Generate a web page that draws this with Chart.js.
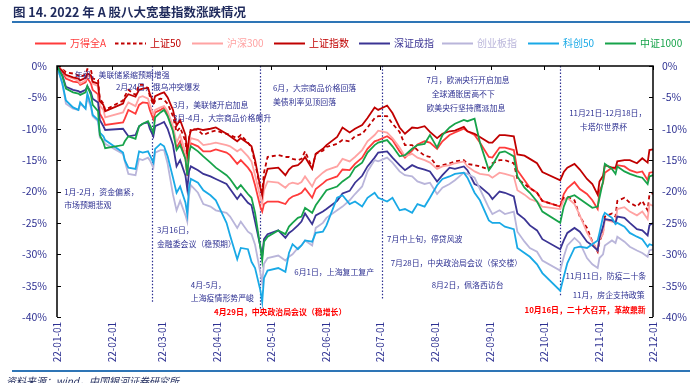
<!DOCTYPE html>
<html>
<head>
<meta charset="utf-8">
<script src="https://cdn.jsdelivr.net/npm/chart.js@4"></script>
<style>
  html, body { margin: 0; padding: 0; background: #fff; }
  #wrap { position: relative; width: 700px; height: 383px; overflow: hidden; }
  #c { position: absolute; left: 0; top: 0; }
  .title { position: absolute; left: 13px; top: 2px; font: bold 12.5px 'Noto Sans CJK SC'; color: #1f2a5c; }
  .rule { position: absolute; left: 12px; width: 678px; height: 2px; background: #2e75b6; }
  .src { position: absolute; left: 6px; top: 373px; font: italic 10px 'Noto Sans CJK SC'; color: #1f2a5c; }
</style>
</head>
<body>
<div id="wrap">
  <canvas id="c" width="700" height="383"></canvas>
  <div class="title">图 14. 2022 年 A 股八大宽基指数涨跌情况</div>
  <div class="rule" style="top:21px"></div>
  <div class="rule" style="top:370px"></div>
  <div class="src">资料来源：wind，中国银河证券研究所</div>
</div>
<script>
// 日期（2022年，MM-DD）
const dates = [
  '01-01','01-04','01-06','01-10','01-13','01-14','01-17','01-18','01-20','01-21','01-24','01-25','01-27','01-28',
  '02-07','02-08','02-10','02-14','02-16','02-18','02-21','02-22','02-24','02-25','02-28',
  '03-02','03-04','03-07','03-09','03-11','03-14','03-15','03-16','03-17','03-21','03-24','03-28','03-31',
  '04-06','04-08','04-12','04-14','04-18','04-20','04-22','04-25','04-26','04-27','04-29',
  '05-05','05-09','05-11','05-13','05-16','05-18','05-20','05-24','05-26','05-30',
  '06-01','06-07','06-10','06-14','06-17','06-21','06-24','06-28','06-30',
  '07-05','07-08','07-12','07-15','07-19','07-22','07-26','07-29',
  '08-02','08-05','08-09','08-12','08-17','08-19','08-23','08-26','08-31',
  '09-02','09-06','09-09','09-14','09-16','09-20','09-23','09-27','09-30',
  '10-10','10-12','10-14','10-18','10-21','10-25','10-28','10-31',
  '11-01','11-03','11-04','11-08','11-10','11-11','11-15','11-18','11-22','11-25','11-28','11-29','12-01'
];

// 年初以来涨跌幅（%）
const wdqa = [
  0,-0.8,-2.0,-2.5,-2.6,-3.0,-2.6,-1.9,-2.8,-3.8,-4.5,-7.6,-8.6,-9.4,
  -9.0,-8.4,-7.0,-7.6,-6.2,-5.8,-5.9,-7.0,-8.5,-7.4,-7.0,
  -6.6,-7.6,-10.2,-13.0,-12.0,-14.8,-17.5,-13.6,-12.3,-12.8,-13.6,-13.6,-13.3,
  -13.8,-14.2,-15.6,-15.0,-16.2,-17.0,-19.0,-22.5,-23.2,-22.0,-21.6,
  -21.6,-22.0,-21.2,-20.8,-20.5,-20.2,-19.5,-21.0,-19.6,-18.7,
  -18.2,-17.6,-16.5,-16.6,-15.6,-14.6,-13.2,-12.0,-11.8,
  -11.2,-11.8,-13.6,-14.6,-13.5,-12.5,-12.0,-12.2,
  -13.2,-12.0,-11.0,-10.6,-10.0,-10.4,-11.0,-12.2,-14.5,
  -14.6,-13.0,-13.0,-13.4,-16.6,-18.2,-19.4,-20.2,-21.5,
  -22.4,-20.4,-19.5,-18.5,-19.6,-20.4,-21.4,-22.8,
  -20.0,-18.6,-17.0,-16.2,-16.4,-15.8,-16.0,-16.6,-17.0,-16.8,-18.2,-17.0,-16.9
];
const sz50 = [
  0,-0.5,-1.0,-1.2,-1.5,-1.8,-1.3,-0.5,-0.6,-2.0,-2.2,-5.2,-6.0,-7.0,
  -5.5,-4.8,-3.8,-4.6,-3.0,-3.0,-3.5,-4.8,-6.2,-5.5,-5.2,
  -5.4,-6.0,-8.0,-10.5,-9.8,-12.0,-14.8,-11.5,-10.0,-10.2,-11.0,-10.5,-10.3,
  -10.8,-11.0,-11.5,-11.0,-12.2,-13.0,-15.5,-19.5,-20.0,-17.0,-14.5,
  -14.2,-14.5,-14.5,-14.8,-15.0,-14.8,-13.6,-16.2,-14.0,-13.5,
  -12.9,-12.4,-11.8,-12.0,-11.2,-10.8,-9.8,-8.3,-8.0,
  -8.0,-9.2,-10.5,-12.6,-12.6,-13.4,-14.3,-14.5,
  -16.0,-15.8,-15.5,-15.2,-15.0,-15.6,-15.8,-16.0,-16.5,
  -15.5,-15.0,-15.0,-15.5,-18.0,-18.8,-19.5,-20.2,-21.5,
  -22.4,-21.0,-20.8,-21.4,-24.0,-25.8,-28.0,-29.6,
  -28.0,-26.5,-24.0,-23.5,-24.0,-21.5,-21.0,-21.8,-22.4,-21.5,-23.0,-20.5,-20.3
];
const hs300 = [
  0,-0.6,-1.6,-2.0,-2.4,-2.8,-2.3,-1.6,-1.6,-2.8,-3.2,-6.3,-7.0,-8.2,
  -7.4,-6.8,-5.8,-6.4,-5.0,-4.8,-5.2,-6.2,-7.7,-7.0,-6.6,
  -6.4,-7.2,-9.6,-12.2,-11.0,-13.8,-16.5,-12.8,-11.5,-11.8,-12.6,-12.4,-12.2,
  -12.6,-12.8,-13.6,-13.2,-14.4,-15.2,-17.4,-21.0,-22.0,-19.8,-18.4,
  -18.6,-19.4,-18.8,-18.6,-18.8,-18.5,-17.6,-19.2,-18.0,-17.0,
  -16.6,-16.0,-14.8,-15.2,-14.5,-13.4,-12.0,-11.0,-10.3,
  -10.6,-11.5,-13.0,-14.4,-14.0,-14.6,-15.0,-15.4,
  -16.4,-16.0,-15.8,-15.5,-15.2,-16.0,-16.8,-17.2,-17.4,
  -17.8,-17.0,-17.2,-17.6,-19.8,-20.5,-21.2,-21.6,-22.4,
  -22.8,-21.4,-21.0,-22.0,-23.8,-26.5,-28.0,-29.4,
  -27.6,-26.8,-24.5,-24.8,-25.0,-22.8,-22.5,-23.2,-23.8,-23.2,-24.4,-22.0,-22.3
];
const shzs = [
  0,-0.8,-1.4,-1.8,-2.0,-2.3,-1.9,-1.2,-1.5,-2.5,-2.8,-5.6,-6.2,-7.2,
  -6.0,-5.2,-4.5,-4.9,-3.8,-3.6,-3.5,-4.4,-5.8,-4.8,-4.4,
  -4.2,-5.0,-7.0,-9.5,-8.6,-11.0,-14.0,-11.5,-10.3,-10.0,-10.2,-10.0,-9.8,
  -10.8,-11.2,-12.0,-11.5,-12.3,-12.8,-15.0,-19.4,-20.6,-18.2,-16.4,
  -16.2,-17.4,-16.5,-16.0,-15.8,-15.3,-14.5,-16.4,-14.0,-13.2,
  -12.6,-11.3,-9.8,-10.6,-10.0,-9.4,-8.3,-6.6,-7.0,
  -6.3,-7.5,-9.8,-10.8,-9.8,-9.9,-9.6,-10.5,
  -11.5,-10.8,-10.4,-10.3,-9.7,-10.4,-10.8,-11.3,-12.2,
  -12.2,-11.0,-11.0,-11.2,-14.1,-14.3,-14.8,-15.5,-16.9,
  -18.2,-16.9,-16.2,-15.6,-16.5,-18.0,-18.8,-20.5,
  -18.4,-17.5,-15.8,-16.2,-16.2,-15.2,-15.0,-15.0,-15.5,-14.7,-15.4,-13.4,-13.3
];
const szcz = [
  0,-1.5,-3.3,-3.8,-4.0,-4.2,-3.8,-3.2,-4.2,-5.2,-5.8,-8.6,-9.6,-10.2,
  -10.0,-10.4,-11.2,-11.0,-9.6,-9.2,-9.0,-10.0,-11.2,-9.6,-9.2,
  -8.9,-10.0,-12.6,-16.0,-15.0,-17.5,-19.6,-16.8,-16.0,-16.6,-17.2,-17.6,-18.0,
  -18.8,-19.6,-21.2,-20.4,-21.8,-22.2,-24.8,-28.8,-30.2,-27.6,-26.8,
  -26.2,-27.4,-26.6,-26.2,-25.4,-24.8,-23.5,-25.2,-23.8,-23.2,
  -22.8,-21.5,-20.3,-19.9,-18.6,-17.5,-16.0,-14.6,-13.8,
  -13.6,-14.6,-15.8,-16.6,-15.8,-16.2,-16.5,-16.8,
  -18.4,-17.4,-16.2,-16.4,-16.0,-16.6,-18.8,-19.2,-20.4,
  -21.2,-20.0,-20.2,-20.8,-23.5,-24.4,-25.4,-26.2,-27.6,
  -29.2,-27.8,-26.6,-25.8,-26.4,-28.0,-28.6,-29.4,
  -27.4,-25.6,-24.4,-24.6,-25.0,-24.0,-24.2,-25.0,-26.0,-26.2,-27.0,-25.4,-25.0
];
const cybz = [
  0,-2.8,-6.0,-6.8,-7.0,-6.0,-6.8,-5.0,-6.6,-8.0,-8.8,-11.4,-11.8,-12.4,
  -14.0,-15.2,-17.2,-17.4,-14.8,-15.0,-14.6,-15.0,-16.2,-13.8,-13.4,
  -13.4,-15.6,-20.5,-23.0,-21.5,-23.8,-24.8,-20.6,-19.0,-20.2,-22.0,-22.4,-23.0,
  -23.4,-24.0,-25.8,-24.8,-26.4,-26.8,-28.5,-33.0,-34.5,-31.5,-30.6,
  -30.2,-31.0,-30.4,-30.0,-29.0,-28.6,-27.8,-28.6,-25.8,-25.0,
  -24.2,-23.0,-22.4,-21.4,-20.4,-19.2,-16.8,-15.0,-15.2,
  -14.6,-15.4,-16.8,-17.4,-17.6,-18.4,-18.8,-18.6,
  -20.4,-19.4,-18.8,-18.2,-17.0,-17.2,-17.8,-19.6,-22.6,
  -23.6,-23.0,-23.6,-23.2,-26.4,-28.0,-29.0,-29.6,-31.0,
  -32.6,-30.4,-28.6,-27.4,-28.2,-30.6,-31.6,-32.2,
  -30.6,-30.0,-28.6,-27.8,-28.2,-27.2,-28.0,-28.8,-29.4,-29.8,-30.4,-29.4,-29.2
];
const kc50 = [
  0,-2.8,-5.5,-6.6,-7.0,-5.8,-6.8,-4.4,-6.2,-7.8,-8.6,-10.6,-11.2,-11.8,
  -13.8,-15.0,-16.2,-16.4,-13.6,-13.8,-13.6,-14.2,-15.4,-13.2,-12.4,
  -12.8,-14.4,-17.8,-20.2,-19.2,-21.8,-23.6,-19.4,-18.0,-18.6,-19.8,-20.6,-21.4,
  -25.0,-27.0,-30.8,-29.0,-29.2,-31.2,-32.2,-35.8,-37.6,-33.8,-32.6,
  -32.2,-32.8,-29.8,-28.4,-29.2,-28.6,-27.8,-28.0,-26.6,-26.4,
  -25.4,-21.0,-20.6,-22.0,-21.6,-22.4,-21.0,-20.2,-21.0,
  -21.6,-21.0,-23.0,-22.8,-23.4,-22.0,-22.4,-21.0,
  -19.0,-18.0,-17.6,-17.2,-17.0,-17.8,-20.2,-21.4,-24.6,
  -25.0,-25.0,-25.6,-26.0,-29.0,-29.8,-30.4,-31.6,-33.0,
  -35.8,-33.6,-31.4,-29.0,-28.8,-29.0,-28.4,-27.8,
  -26.6,-24.0,-23.4,-24.2,-25.2,-25.0,-25.6,-26.6,-27.2,-27.6,-28.8,-28.4,-28.6
];
const zz1000 = [
  0,-1.6,-3.6,-4.2,-4.4,-4.6,-4.2,-3.2,-4.6,-6.2,-7.2,-11.0,-12.2,-13.1,
  -12.6,-12.0,-11.2,-11.6,-9.6,-9.2,-8.8,-9.4,-10.6,-8.2,-7.4,
  -7.0,-8.0,-10.4,-13.4,-12.6,-14.8,-17.4,-13.8,-12.8,-13.6,-14.4,-15.4,-16.2,
  -17.4,-18.0,-19.6,-19.0,-20.4,-21.0,-23.4,-29.0,-31.0,-28.0,-27.2,
  -26.2,-26.8,-25.6,-25.0,-24.2,-24.0,-22.6,-23.4,-22.2,-20.6,
  -19.8,-19.2,-18.4,-17.6,-16.2,-15.4,-13.8,-12.6,-12.2,
  -11.8,-12.8,-14.4,-14.2,-13.2,-12.6,-12.4,-11.0,
  -13.0,-11.0,-9.8,-9.2,-8.6,-8.8,-8.4,-12.2,-16.6,
  -15.8,-13.8,-13.6,-14.4,-17.6,-19.4,-20.2,-21.6,-23.2,
  -25.0,-22.4,-21.0,-20.6,-21.2,-22.0,-22.6,-22.4,
  -21.0,-18.4,-15.6,-16.4,-17.2,-16.0,-16.8,-17.2,-17.6,-17.8,-18.8,-17.6,-17.4
];

const names = ['万得全A','上证50','沪深300','上证指数','深证成指','创业板指','科创50','中证1000'];
const series = [wdqa, sz50, hs300, shzs, szcz, cybz, kc50, zz1000];
const colors = ['#ff3b3b','#c00000','#ffa3a3','#c00000','#3b3494','#b9b5da','#19a9e6','#17a34a'];

// 横轴刻度（每月1日）
const tickLabels = ['22-01-01','22-02-01','22-03-01','22-04-01','22-05-01','22-06-01',
  '22-07-01','22-08-01','22-09-01','22-10-01','22-11-01','22-12-01'];
const yTicks = [0,-5,-10,-15,-20,-25,-30,-35,-40];

// 事件竖线（日期）
const eventLines = [['02-23', -37.6], ['04-25', -38.7], ['07-02', -37.3], ['10-10', -36.8]];

// 注释文字：[文字, 日期位置, 数值位置, 是否红色]
const notes = [
  ['年初，美联储紧缩预期增强', '01-11', -1.45, 0],
  ['2月24日，俄乌冲突爆发', '02-03', -3.35, 0],
  ['3月，美联储开启加息', '03-07', -6.2, 0],
  ['3月-4月，大宗商品价格飙升', '03-07', -8.3, 0],
  ['1月-2月，资金偏紧，', '01-05', -20.1, 0],
  ['市场预期悲观', '01-05', -22.2, 0],
  ['3月16日，', '02-26', -26.2, 0],
  ['金融委会议（稳预期）', '02-26', -28.4, 0],
  ['4月-5月，', '03-17', -34.9, 0],
  ['上海疫情形势严峻', '03-17', -37.0, 0],
  ['4月29日，中央政治局会议（稳增长）', '03-30', -39.25, 1],
  ['6月，大宗商品价格回落', '05-02', -3.5, 0],
  ['美债利率见顶回落', '05-02', -5.75, 0],
  ['6月1日，上海复工复产', '05-14', -32.9, 0],
  ['7月，欧洲央行开启加息', '07-27', -2.25, 0],
  ['全球通胀居高不下', '07-30', -4.45, 0],
  ['欧美央行坚持鹰派加息', '07-27', -6.7, 0],
  ['11月21日-12月18日，', '10-15', -7.5, 0],
  ['卡塔尔世界杯', '10-21', -9.75, 0],
  ['7月中上旬，停贷风波', '07-05', -27.6, 0],
  ['7月28日，中央政治局会议（保交楼）', '07-07', -31.4, 0],
  ['8月2日，佩洛西访台', '07-30', -34.9, 0],
  ['11月11日，防疫二十条', '10-13', -33.5, 0],
  ['11月，房企支持政策', '10-17', -36.5, 0],
  ['10月16日，二十大召开，革故鼎新', '09-20', -38.9, 1]
];

const FONT = "'Noto Sans CJK SC', 'Noto Sans', sans-serif";
const NAVY = '#2e3192';
const dayOf = s => (Date.UTC(2022, +s.slice(0, 2) - 1, +s.slice(3, 5)) - Date.UTC(2022, 0, 1)) / 864e5;
const tickDays = tickLabels.map(t => dayOf(t.slice(3)));

const datasets = series.map((vals, i) => ({
  label: names[i],
  data: dates.map((d, j) => ({ x: dayOf(d), y: vals[j] })),
  borderColor: colors[i],
  borderWidth: 1.8,
  borderDash: i === 1 ? [4, 3] : [],
  pointRadius: 0,
  tension: 0,
  fill: false,
  order: 7 - i
}));

const decor = {
  id: 'decor',
  beforeDatasetsDraw(chart) {
    const { ctx, chartArea: a, scales: { x, y } } = chart;
    ctx.save();
    ctx.strokeStyle = NAVY;
    ctx.lineWidth = 1.2;
    ctx.setLineDash([1.5, 1.8]);
    eventLines.forEach(([d, end]) => {
      const px = Math.round(x.getPixelForValue(dayOf(d))) + 0.5;
      ctx.beginPath();
      ctx.moveTo(px, a.top);
      ctx.lineTo(px, y.getPixelForValue(end));
      ctx.stroke();
    });
    ctx.restore();
  },
  afterDraw(chart) {
    const { ctx, chartArea: a, scales: { x, y } } = chart;
    ctx.save();
    // 坐标轴框线
    ctx.strokeStyle = '#000';
    ctx.lineWidth = 1.5;
    ctx.beginPath();
    ctx.moveTo(a.left, a.bottom); ctx.lineTo(a.left, a.top); ctx.lineTo(a.right, a.top); ctx.lineTo(a.right, a.bottom);
    ctx.stroke();
    ctx.lineWidth = 1;
    ctx.beginPath();
    yTicks.forEach(v => {
      const py = Math.round(y.getPixelForValue(v)) + 0.5;
      ctx.moveTo(a.left, py); ctx.lineTo(a.left + 4, py);
      ctx.moveTo(a.right, py); ctx.lineTo(a.right - 4, py);
    });
    tickDays.forEach(d => {
      const px = Math.round(x.getPixelForValue(d)) + 0.5;
      ctx.moveTo(px, a.top); ctx.lineTo(px, a.top + 4);
    });
    ctx.stroke();

    // 注释
    ctx.textBaseline = 'middle';
    ctx.textAlign = 'left';
    notes.forEach(([t, d, v, red]) => {
      ctx.font = (red ? 'bold ' : '') + '7.9px ' + FONT;
      ctx.fillStyle = red ? '#ff0000' : NAVY;
      ctx.fillText(t, x.getPixelForValue(dayOf(d)), y.getPixelForValue(v));
    });

    // 图例
    const lx = [35, 115, 192, 274, 359, 442, 528, 605];
    const ly = 43.5;
    ctx.font = '10px ' + FONT;
    names.forEach((n, i) => {
      ctx.strokeStyle = colors[i];
      ctx.lineWidth = 2;
      ctx.setLineDash(i === 1 ? [3.5, 2.5] : []);
      ctx.beginPath();
      ctx.moveTo(lx[i], ly); ctx.lineTo(lx[i] + 31, ly);
      ctx.stroke();
      ctx.setLineDash([]);
      ctx.fillStyle = colors[i];
      ctx.fillText(n, lx[i] + 35, ly);
    });
    ctx.restore();
  }
};

new Chart(document.getElementById('c'), {
  type: 'line',
  data: { datasets },
  options: {
    responsive: false,
    animation: false,
    devicePixelRatio: 1,
    layout: { padding: { top: 66, left: 0, right: 0, bottom: 0 } },
    plugins: { legend: { display: false }, tooltip: { enabled: false } },
    scales: {
      x: {
        type: 'linear', min: 0, max: 334,
        afterBuildTicks: s => { s.ticks = tickDays.map(v => ({ value: v })); },
        afterFit: s => { s.height = 66; },
        ticks: {
          autoSkip: false, minRotation: 90, maxRotation: 90, padding: 5,
          color: NAVY, font: { size: 10, family: FONT },
          callback: v => tickLabels[tickDays.indexOf(v)]
        },
        grid: { display: false, drawTicks: false },
        border: { display: false }
      },
      y: {
        position: 'left', min: -40, max: 0,
        afterFit: s => { s.width = 57; },
        ticks: { stepSize: 5, padding: 10, color: NAVY, font: { size: 10.5, family: FONT }, callback: v => v + '%' },
        grid: { display: false, drawTicks: false },
        border: { display: false }
      },
      y2: {
        position: 'right', min: -40, max: 0,
        afterFit: s => { s.width = 47; },
        ticks: { stepSize: 5, padding: 9, color: NAVY, font: { size: 10.5, family: FONT }, callback: v => v + '%' },
        grid: { display: false, drawTicks: false },
        border: { display: false }
      }
    }
  },
  plugins: [decor]
});
</script>
</body>
</html>
